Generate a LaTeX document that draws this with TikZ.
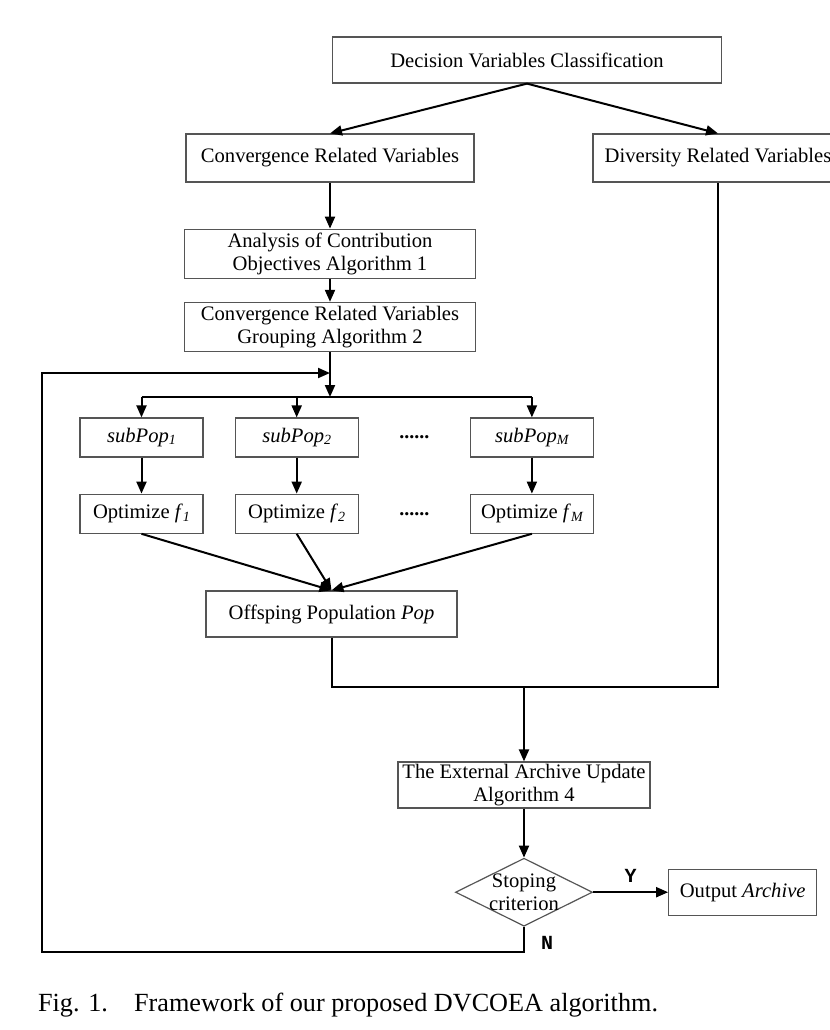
\documentclass[tikz,border=0pt]{standalone}
\usepackage{fontspec}
\setmainfont{Liberation Serif}
\setmonofont{Liberation Mono}
\usepackage{tikz}
\usetikzlibrary{shapes.geometric,arrows.meta,positioning,calc}
\definecolor{dvline}{HTML}{555555}
\newcommand{\lowidx}[1]{\raisebox{-0.25ex}{\scriptsize\itshape #1}}

\begin{document}
\begin{tikzpicture}[
    x=0.5pt, y=-0.5pt,
    box/.style={rectangle, draw=dvline, fill=white, line width=0.6pt, align=center, inner sep=1pt, font=\fontsize{10.3}{11.6}\selectfont},
    bigbox/.style={box, minimum width=145.5pt, minimum height=24.5pt},
    popbox/.style={box, minimum width=61.5pt, minimum height=19.5pt},
    decision/.style={diamond, draw=dvline, line width=0.6pt, minimum width=68.5pt, minimum height=34pt, inner sep=0pt},
    lab/.style={font=\ttfamily\bfseries\fontsize{10}{11}\selectfont},
    arr/.style={-{Triangle[length=6pt,width=5pt]}, line width=1pt},
    wire/.style={line width=1pt}
]
    \useasboundingbox (0,0) rectangle (830,1030);

    % Classification
    \node (dvc) [box, minimum width=194.5pt, minimum height=23pt] at (527,60) {Decision Variables Classification};
    \node (conv) [box, minimum width=144pt, minimum height=24pt] at (330,158) {Convergence Related Variables};
    \node (div) [box, minimum width=125pt, minimum height=24pt] at (718,158) {Diversity Related Variables};

    \node (ana) [bigbox, below=23pt of conv] {Analysis of Contribution\\Objectives Algorithm 1};
    \node (grp) [bigbox, below=11.5pt of ana] {Convergence Related Variables\\Grouping Algorithm 2};

    % Subpopulations
    \node (sp1) [popbox] at (141.5,437.5) {\textit{subPop}\lowidx{1}};
    \node (sp2) [popbox, right=15.5pt of sp1] {\textit{subPop}\lowidx{2}};
    \node (spM) [popbox, right=55.5pt of sp2] {\textit{subPop}\lowidx{M}};
    \node (dots1) [font=\bfseries] at ($(sp2.east)!0.5!(spM.west)$) {......};

    \node (op1) [popbox, below=18pt of sp1] {Optimize \textit{f}\lowidx{1}};
    \node (op2) [popbox, below=18pt of sp2] {Optimize \textit{f}\lowidx{2}};
    \node (opM) [popbox, below=18pt of spM] {Optimize \textit{f}\lowidx{M}};
    \node (dots2) [font=\bfseries] at ($(op2.east)!0.5!(opM.west)$) {......};

    \node (off) [box, minimum width=125.5pt, minimum height=23pt] at (331.5,614) {Offsping Population \textit{Pop}};

    % Archive
    \node (ext) [box, minimum width=126pt, minimum height=23pt] at (524,785) {The External Archive Update\\Algorithm 4};
    \node (stop) [decision, below=24.5pt of ext, label={[box, draw=none, fill=none, align=center, inner sep=0pt]center:Stoping\\criterion}] {};
    \node (out) [box, minimum width=74pt, minimum height=23pt, right=37.5pt of stop] {Output \textit{Archive}};

    \node (cap) [anchor=west, font=\fontsize{13.1}{15}\selectfont] at (31,1005) {Fig. 1.\quad Framework of our proposed DVCOEA algorithm.};

    % Connectors
    \draw [arr] (dvc.south) -- (conv.north);
    \draw [arr] (dvc.south) -- (div.north);
    \draw [arr] (conv) -- (ana);
    \draw [arr] (ana) -- (grp);

    \coordinate (br) at (grp.south |- 0,397);
    \coordinate (loopin) at (grp.south |- 0,373);
    \draw [arr] (grp.south) -- (br);
    \draw [wire] (sp1 |- br) -- (spM |- br);
    \foreach \s in {sp1,sp2,spM}
        \draw [arr] (\s |- br) -- (\s.north);
    \foreach \s/\o in {sp1/op1,sp2/op2,spM/opM}
        \draw [arr] (\s) -- (\o);
    \foreach \o in {op1,op2,opM}
        \draw [arr] (\o.south) -- (off.north);

    \coordinate (mrg) at (ext.north |- 0,687);
    \draw [wire] (off.south) |- (mrg) -| (div.south);
    \draw [arr] (mrg) -- (ext.north);
    \draw [arr] (ext) -- (stop);
    \draw [arr] (stop.east) -- node [lab, above=1pt] {Y} (out.west);

    \coordinate (lbot) at (42,952);
    \draw [arr] (stop.south) |- (lbot) |- (loopin);
    \node (nlab) [lab, below right=1pt and 5pt of stop.south] {N};
\end{tikzpicture}
\end{document}
